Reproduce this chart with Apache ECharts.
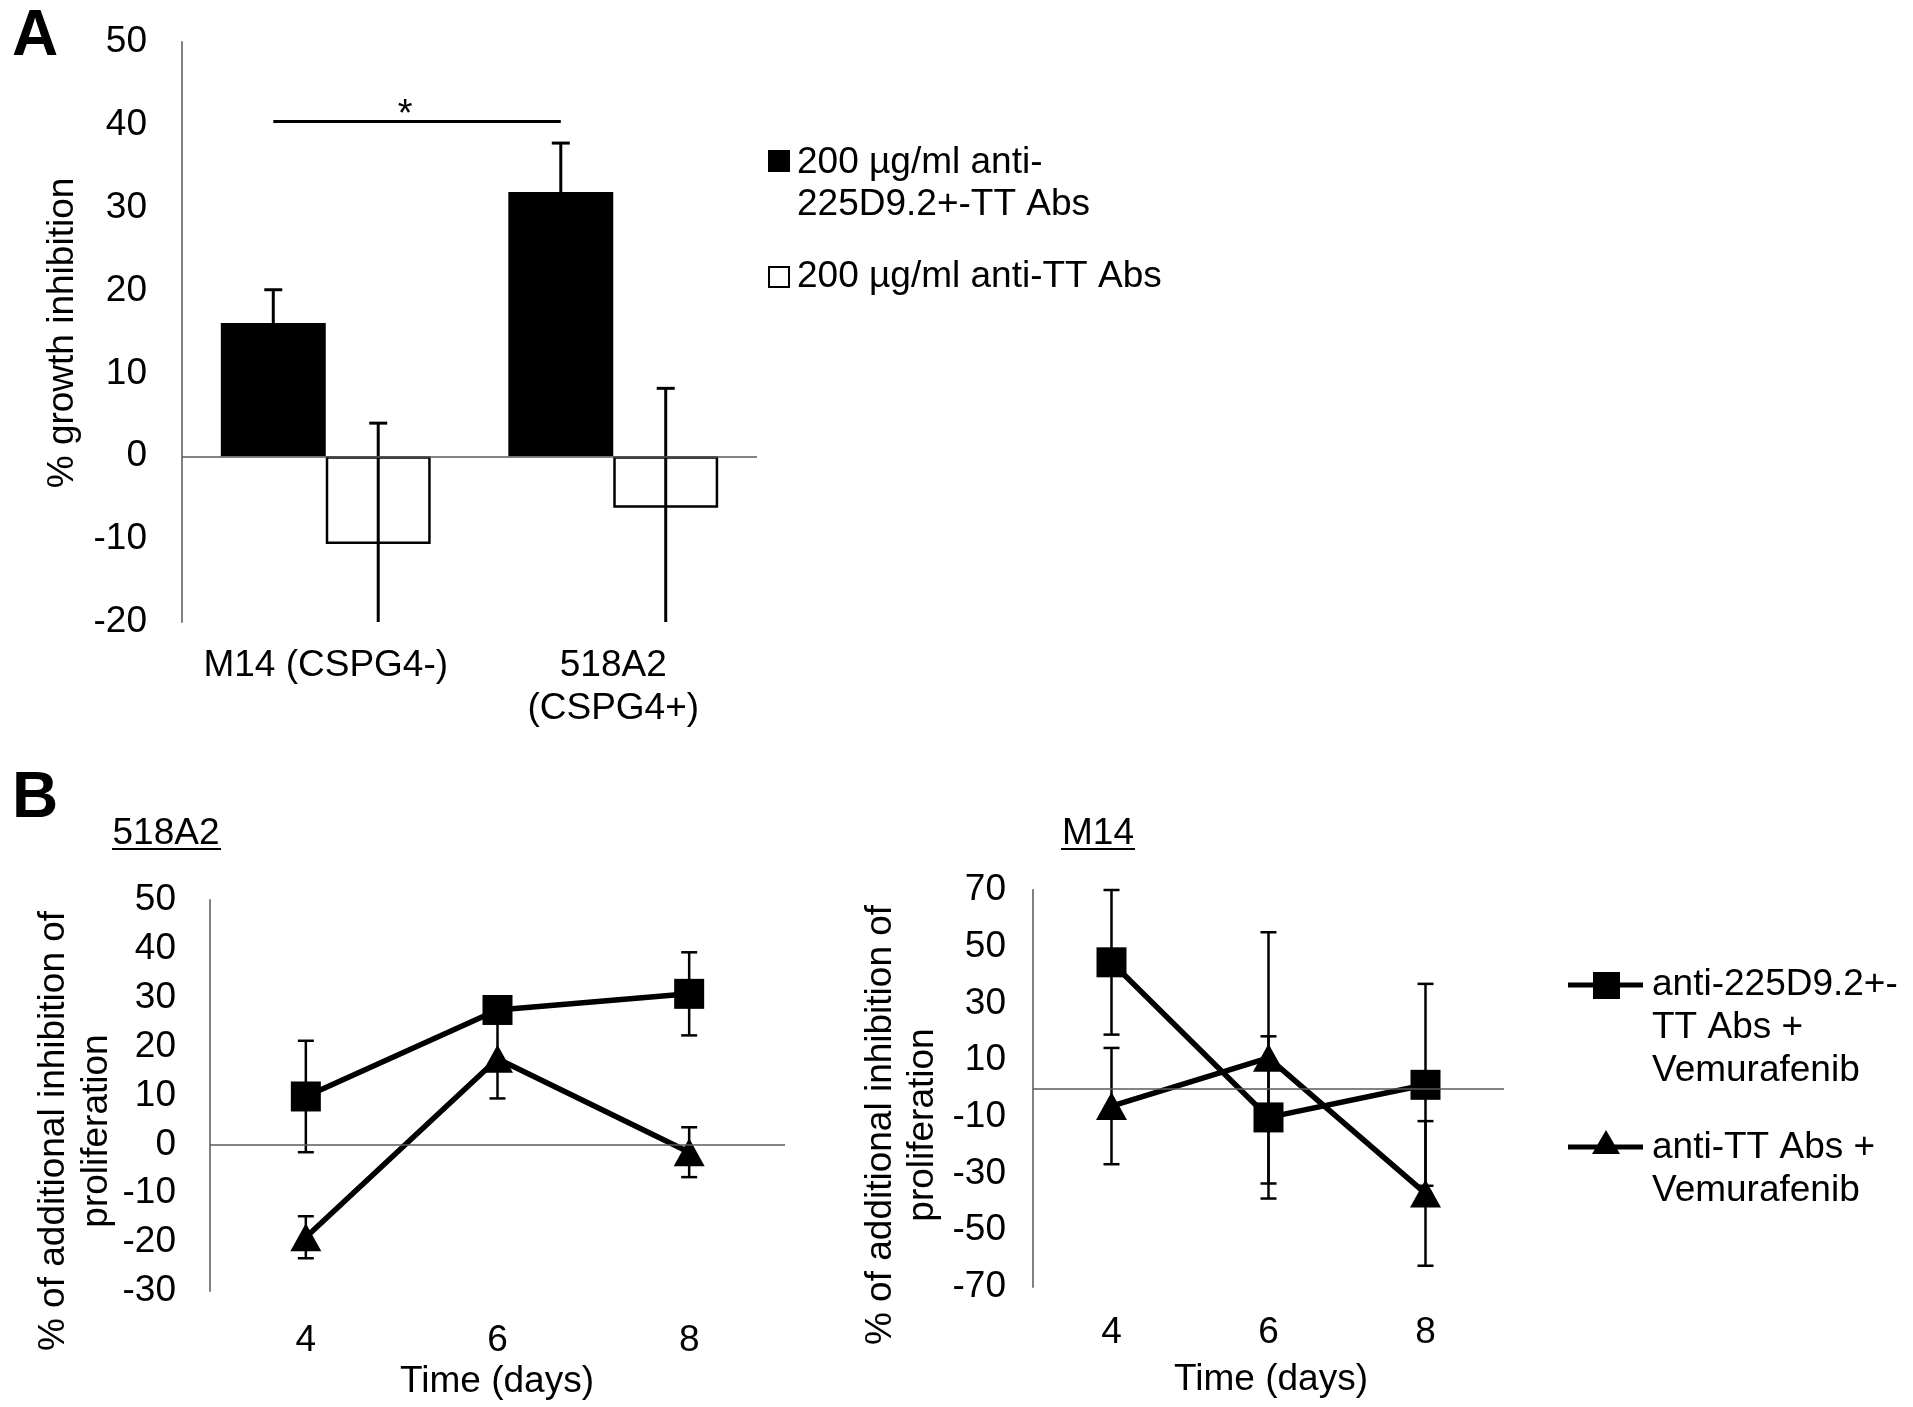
<!DOCTYPE html>
<html>
<head>
<meta charset="utf-8">
<script src="https://cdn.jsdelivr.net/npm/echarts@6/dist/echarts.min.js"></script>
<style>
html,body{margin:0;padding:0;background:#fff;}
#chart{width:1913px;height:1407px;}
</style>
</head>
<body>
<div id="chart"></div>
<script>
// ---- Panel A data ----
const catA = ['M14 (CSPG4-)', '518A2\n(CSPG4+)'];
const blackVals = [16.1, 31.9];
const blackErr = [4.0, 5.9];
const whiteVals = [-10.6, -6.2];
const whiteErr = [14.6, 14.4];
const sigY = 40.4;
const legendA = ['200 µg/ml anti-\n225D9.2+-TT Abs', '200 µg/ml anti-TT Abs'];

// ---- Panel B data ----
const days = ['4', '6', '8'];
const sq518 = [9.8, 27.5, 30.8];
const sq518Err = [11.4, 2.5, 8.5];
const tri518 = [-19.0, 17.5, -1.6];
const tri518Err = [4.3, 8.1, 5.1];
const sqM14 = [44.5, -10.2, 1.3];
const sqM14Err = [25.5, 28.6, 35.6];
const triM14 = [-6.2, 10.8, -37.0];
const triM14Err = [20.5, 44.3, 25.5];
const legendB = ['anti-225D9.2+-\nTT Abs +\nVemurafenib', 'anti-TT Abs +\nVemurafenib'];
const ticksBRight = [-70, -50, -30, -10, 10, 30, 50, 70];

const FF = '"Liberation Sans", Arial, sans-serif';
const GAP = 0.27;

function errRender(capHalf, lw) {
  return function (params, api) {
    const cat = api.value(0), mean = api.value(1), err = api.value(2), side = api.value(3);
    const band = api.size([1, 0])[0];
    const c = api.coord([cat, mean]);
    const x = c[0] + side * band * (1 - GAP) / 4;
    const cs = params.coordSys;
    const top = cs.y, bot = cs.y + cs.height;
    let hi = api.coord([cat, mean + err])[1];
    let lo = api.coord([cat, mean - err])[1];
    const children = [];
    let hiCap = true, loCap = true;
    if (hi < top) { hi = top; hiCap = false; }
    if (lo > bot) { lo = bot; loCap = false; }
    const st = { stroke: '#000', lineWidth: lw };
    children.push({ type: 'line', shape: { x1: x, y1: hi, x2: x, y2: lo }, style: st });
    if (hiCap) children.push({ type: 'line', shape: { x1: x - capHalf, y1: hi, x2: x + capHalf, y2: hi }, style: st });
    if (loCap) children.push({ type: 'line', shape: { x1: x - capHalf, y1: lo, x2: x + capHalf, y2: lo }, style: st });
    return { type: 'group', children: children };
  };
}

const zeroLine = {
  silent: true, symbol: 'none', label: { show: false },
  lineStyle: { type: 'solid', color: '#5a5a5a', width: 1.5 },
  emphasis: { disabled: true },
  data: [{ yAxis: 0 }]
};

const errA = blackVals.map((v, i) => [i, v, blackErr[i], -1])
  .concat(whiteVals.map((v, i) => [i, v, whiteErr[i], 1]));
const mk = (vals, errs) => vals.map((v, i) => [i, v, errs[i], 0]);

const txt = (x, y, text, extra) => Object.assign({
  type: 'text', x: x, y: y,
  style: Object.assign({ text: text, font: '37px ' + FF, fill: '#000', align: 'center', verticalAlign: 'middle' }, (extra && extra.style) || {})
}, extra && extra.rotation ? { rotation: extra.rotation } : {});

const axisLbl = (size, margin) => ({ fontSize: size, margin: margin, color: '#000', fontFamily: FF });
const yLine = { show: true, onZero: false, lineStyle: { color: '#808080', width: 2 } };

const option = {
  animation: false,
  backgroundColor: '#fff',
  grid: [
    { left: 182, top: 42, width: 575, height: 580 },
    { left: 210, top: 900, width: 575, height: 391 },
    { left: 1033, top: 890, width: 471, height: 397 }
  ],
  xAxis: [
    { gridIndex: 0, type: 'category', data: catA, axisLine: { show: false }, axisTick: { show: false },
      axisLabel: Object.assign(axisLbl(37, 22), { lineHeight: 43, interval: 0 }) },
    { gridIndex: 1, type: 'category', data: days, axisLine: { show: false }, axisTick: { show: false },
      axisLabel: Object.assign(axisLbl(37, 31), { interval: 0 }) },
    { gridIndex: 2, type: 'category', data: days, axisLine: { show: false }, axisTick: { show: false },
      axisLabel: Object.assign(axisLbl(37, 27), { interval: 0 }) }
  ],
  yAxis: [
    { gridIndex: 0, type: 'value', min: -20, max: 50, interval: 10, axisLine: yLine, axisTick: { show: false },
      splitLine: { show: false }, axisLabel: axisLbl(37, 35) },
    { gridIndex: 1, type: 'value', min: -30, max: 50, interval: 10, axisLine: yLine, axisTick: { show: false },
      splitLine: { show: false }, axisLabel: axisLbl(37, 34) },
    { gridIndex: 2, type: 'value', min: -70, max: 70, interval: 10, axisLine: yLine, axisTick: { show: false },
      splitLine: { show: false },
      axisLabel: Object.assign(axisLbl(37, 27), { formatter: v => ticksBRight.includes(v) ? String(v) : '' }) }
  ],
  series: [
    { type: 'bar', name: legendA[0], xAxisIndex: 0, yAxisIndex: 0, data: blackVals,
      barGap: '0%', barCategoryGap: (GAP * 100) + '%', itemStyle: { color: '#000' }, markLine: zeroLine, z: 2 },
    { type: 'bar', name: legendA[1], xAxisIndex: 0, yAxisIndex: 0, data: whiteVals,
      itemStyle: { color: '#fff', borderColor: '#000', borderWidth: 2.5 }, z: 2 },
    { type: 'custom', xAxisIndex: 0, yAxisIndex: 0, data: errA, renderItem: errRender(9, 3), z: 3,
      encode: { x: 0, y: 1 } },
    { type: 'custom', xAxisIndex: 0, yAxisIndex: 0, data: [[0, 1, sigY]], encode: { x: [0, 1], y: 2 }, z: 3,
      renderItem: function (params, api) {
        const band = api.size([1, 0])[0];
        const off = -band * (1 - GAP) / 4;
        const p1 = api.coord([api.value(0), api.value(2)]);
        const p2 = api.coord([api.value(1), api.value(2)]);
        const x1 = p1[0] + off, x2 = p2[0] + off, y = p1[1];
        return { type: 'group', children: [
          { type: 'line', shape: { x1: x1, y1: y, x2: x2, y2: y }, style: { stroke: '#000', lineWidth: 3 } },
          { type: 'text', x: (x1 + x2) / 2 - 12, y: y - 6,
            style: { text: '*', font: '38px ' + FF, fill: '#000', align: 'center', verticalAlign: 'middle' } }
        ] };
      } },
    // B left
    { type: 'custom', xAxisIndex: 1, yAxisIndex: 1, data: mk(sq518, sq518Err), renderItem: errRender(8, 2.5), z: 2, encode: { x: 0, y: 1 } },
    { type: 'custom', xAxisIndex: 1, yAxisIndex: 1, data: mk(tri518, tri518Err), renderItem: errRender(8, 2.5), z: 2, encode: { x: 0, y: 1 } },
    { type: 'line', name: legendB[0], xAxisIndex: 1, yAxisIndex: 1, data: sq518, symbol: 'rect', symbolSize: 30,
      lineStyle: { color: '#000', width: 5.5 }, itemStyle: { color: '#000' }, markLine: zeroLine, z: 4 },
    { type: 'line', name: legendB[1], xAxisIndex: 1, yAxisIndex: 1, data: tri518, symbol: 'triangle', symbolSize: [31, 28],
      lineStyle: { color: '#000', width: 5.5 }, itemStyle: { color: '#000' }, z: 4 },
    // B right
    { type: 'custom', xAxisIndex: 2, yAxisIndex: 2, data: mk(sqM14, sqM14Err), renderItem: errRender(8, 2.5), z: 2, encode: { x: 0, y: 1 } },
    { type: 'custom', xAxisIndex: 2, yAxisIndex: 2, data: mk(triM14, triM14Err), renderItem: errRender(8, 2.5), z: 2, encode: { x: 0, y: 1 } },
    { type: 'line', name: legendB[0], xAxisIndex: 2, yAxisIndex: 2, data: sqM14, symbol: 'rect', symbolSize: 30,
      lineStyle: { color: '#000', width: 5.5 }, itemStyle: { color: '#000' }, markLine: zeroLine, z: 4 },
    { type: 'line', name: legendB[1], xAxisIndex: 2, yAxisIndex: 2, data: triM14, symbol: 'triangle', symbolSize: [31, 28],
      lineStyle: { color: '#000', width: 5.5 }, itemStyle: { color: '#000' }, z: 4 }
  ],
  graphic: [
    txt(12, 37, 'A', { style: { font: 'bold 64px ' + FF, align: 'left' } }),
    txt(12, 799, 'B', { style: { font: 'bold 64px ' + FF, align: 'left' } }),
    txt(63, 333, '% growth inhibition', { rotation: Math.PI / 2 }),
    txt(75, 1131, '% of additional inhibition of\nproliferation', { rotation: Math.PI / 2, style: { lineHeight: 43 } }),
    txt(902, 1125, '% of additional inhibition of\nproliferation', { rotation: Math.PI / 2, style: { lineHeight: 42 } }),
    txt(497, 1382, 'Time (days)'),
    txt(1271, 1380, 'Time (days)'),
    txt(166, 834, '518A2'),
    { type: 'line', shape: { x1: 112, y1: 849, x2: 221, y2: 849 }, style: { stroke: '#000', lineWidth: 2 } },
    txt(1098, 834, 'M14'),
    { type: 'line', shape: { x1: 1061, y1: 849, x2: 1135, y2: 849 }, style: { stroke: '#000', lineWidth: 2 } },
    // legend A
    { type: 'rect', shape: { x: 768, y: 150, width: 22, height: 22 }, style: { fill: '#000' } },
    txt(797, 184, legendA[0], { style: { align: 'left', lineHeight: 42 } }),
    { type: 'rect', shape: { x: 769, y: 267, width: 20, height: 20 }, style: { fill: '#fff', stroke: '#000', lineWidth: 2 } },
    txt(797, 277, legendA[1], { style: { align: 'left' } }),
    // legend B
    { type: 'line', shape: { x1: 1568, y1: 985, x2: 1643, y2: 985 }, style: { stroke: '#000', lineWidth: 5 } },
    { type: 'rect', shape: { x: 1593, y: 972, width: 27, height: 27 }, style: { fill: '#000' } },
    txt(1652, 1028, legendB[0], { style: { align: 'left', lineHeight: 43 } }),
    { type: 'line', shape: { x1: 1568, y1: 1147, x2: 1643, y2: 1147 }, style: { stroke: '#000', lineWidth: 5 } },
    { type: 'polygon', shape: { points: [[1592, 1154], [1620, 1154], [1606, 1130]] }, style: { fill: '#000' } },
    txt(1652, 1169, legendB[1], { style: { align: 'left', lineHeight: 43 } })
  ]
};

const chart = echarts.init(document.getElementById('chart'), null, { renderer: 'canvas' });
chart.setOption(option);
</script>
</body>
</html>
